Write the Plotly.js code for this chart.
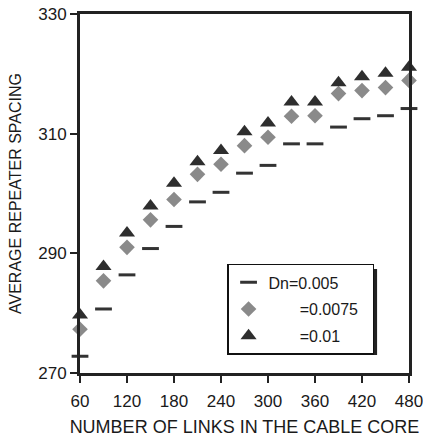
<!DOCTYPE html>
<html>
<head>
<meta charset="utf-8">
<script src="https://cdn.plot.ly/plotly-3.0.1.min.js"></script>
<style>
html,body{margin:0;padding:0;background:#fff;}
#chart{width:423px;height:443px;}
</style>
</head>
<body>
<div id="chart"></div>
<script>
// Number of links in the cable core
const links = [60, 90, 120, 150, 180, 210, 240, 270, 300, 330, 360, 390, 420, 450, 480];
// Average repeater spacing for three Dn values
const dn0005 = [272.8, 280.7, 286.4, 290.8, 294.5, 298.6, 300.2, 303.4, 304.7, 308.3, 308.3, 311.1, 312.5, 313.0, 314.2];
const dn00075 = [277.3, 285.4, 291.0, 295.6, 299.0, 303.2, 304.9, 308.0, 309.4, 312.9, 313.0, 316.7, 317.2, 317.7, 318.9];
const dn001 = [279.7, 287.8, 293.4, 297.9, 301.7, 305.3, 307.2, 310.3, 311.8, 315.3, 315.3, 318.5, 319.5, 320.1, 321.1];
const seriesNames = ["Dn=0.005", "\u00a0\u00a0\u00a0\u00a0\u00a0\u00a0\u00a0=0.0075\u00a0\u00a0", "\u00a0\u00a0\u00a0\u00a0\u00a0\u00a0\u00a0=0.01"];
const xTicks = [60, 120, 180, 240, 300, 360, 420, 480];
const yTicks = [270, 290, 310, 330];

const traces = [
  {x: links, y: dn0005, name: seriesNames[0], type: "scatter", mode: "markers", cliponaxis: false, legendgroup: "a",
   marker: {symbol: "line-ew", size: 12, color: "#333", line: {width: 3, color: "#333"}}},
  {x: links, y: dn00075, name: seriesNames[1], type: "scatter", mode: "markers", cliponaxis: false, legendgroup: "b",
   marker: {symbol: "diamond", size: 12, color: "#8a8a8a", line: {width: 0}}},
  {x: links, y: dn001, name: seriesNames[2], type: "scatter", mode: "markers", cliponaxis: false, legendgroup: "c",
   marker: {symbol: "triangle-up", size: 14, color: "#2e2e2e", line: {width: 0}}}
];

const font = {family: "Liberation Sans, Arial, sans-serif", color: "#1a1a1a"};

const layout = {
  width: 423, height: 443,
  margin: {l: 80, r: 14, t: 14, b: 70},
  paper_bgcolor: "#fff", plot_bgcolor: "#fff",
  font: font,
  showlegend: true,
  legend: {
    x: 0.447, y: 0.304, xanchor: "left", yanchor: "top",
    bgcolor: "#fff", bordercolor: "#111", borderwidth: 1.5,
    font: {family: font.family, size: 16, color: "#1a1a1a"},
    traceorder: "grouped", tracegroupgap: 3
  },
  shapes: [
    {type: "rect", xref: "paper", yref: "paper", x0: 0.459, x1: 0.903, y0: 0.050, y1: 0.290,
     fillcolor: "#222", line: {width: 0}, layer: "above"}
  ],
  xaxis: {
    range: [60, 480], tickvals: xTicks, ticktext: xTicks.map(String),
    showgrid: false, zeroline: false,
    showline: true, mirror: true, linewidth: 3, linecolor: "#222",
    ticks: "outside", ticklen: 7, tickwidth: 2, tickcolor: "#222",
    ticklabeloverflow: "allow", ticklabelstandoff: 4,
    tickfont: {family: font.family, size: 17, color: "#1a1a1a"},
    title: {text: "NUMBER OF LINKS IN THE CABLE CORE", font: {family: font.family, size: 18, color: "#1a1a1a"}, standoff: 10}
  },
  yaxis: {
    range: [270, 330], tickvals: yTicks, ticktext: yTicks.map(String),
    showgrid: false, zeroline: false,
    showline: true, mirror: true, linewidth: 3, linecolor: "#222",
    ticks: "outside", ticklen: 7, tickwidth: 2, tickcolor: "#222",
    tickfont: {family: font.family, size: 17, color: "#1a1a1a"},
    title: {text: "AVERAGE REPEATER SPACING", font: {family: font.family, size: 16, color: "#1a1a1a"}, standoff: 13}
  }
};

Plotly.newPlot("chart", traces, layout, {displayModeBar: false, staticPlot: true});
</script>
</body>
</html>
